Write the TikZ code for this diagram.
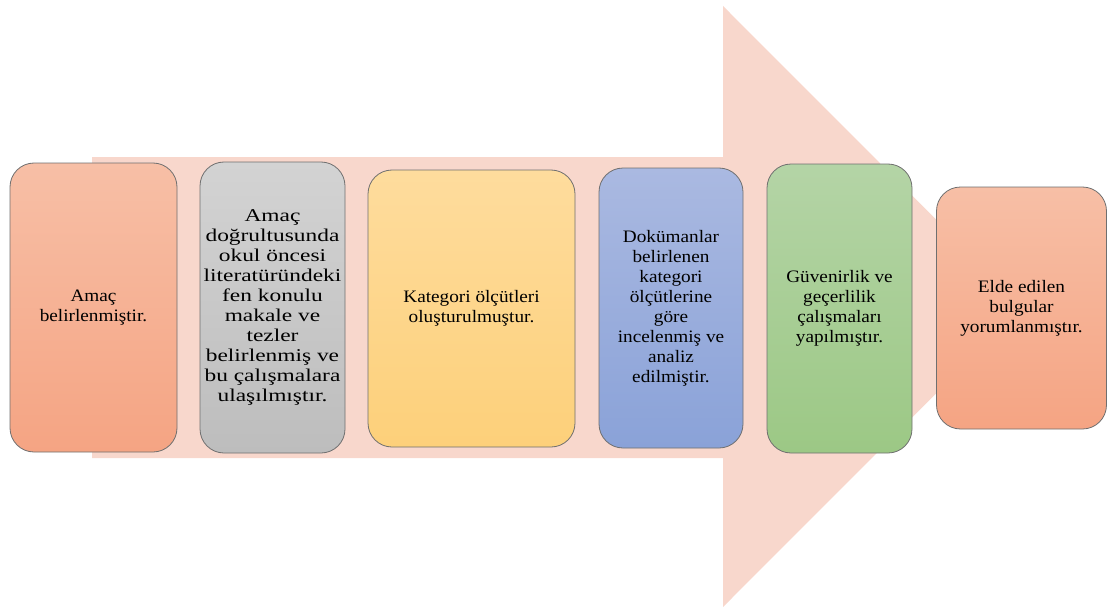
\documentclass[tikz,border=0pt]{standalone}
\usepackage{fontspec}
\newfontfamily\tnr[FakeStretch=1.1]{Liberation Serif}
\newfontfamily\tnrwide[FakeStretch=1.3]{Liberation Serif}
\definecolor{arrowc}{HTML}{F8D7CC}
\definecolor{c1t}{HTML}{F7BFA6}\definecolor{c1b}{HTML}{F5A483}
\definecolor{c2t}{HTML}{D3D3D3}\definecolor{c2b}{HTML}{BDBDBD}
\definecolor{c3t}{HTML}{FEDC9D}\definecolor{c3b}{HTML}{FDD07A}
\definecolor{c4t}{HTML}{AAB9E1}\definecolor{c4b}{HTML}{8AA2D8}
\definecolor{c5t}{HTML}{B4D4A6}\definecolor{c5b}{HTML}{9CC885}
\definecolor{edgec}{HTML}{6F6F6F}
\tikzset{
  stepbox/.style={rounded corners=24pt, draw=edgec, line width=0.8pt,
    align=center, inner sep=2pt,
    font=\tnr\fontsize{17.5}{20}\selectfont},
  widetext/.style={font=\tnrwide\fontsize{18}{19.9}\selectfont},
}
\begin{document}
\begin{tikzpicture}[x=1pt,y=-1pt]
\useasboundingbox (0,0) rectangle (1108,607);
\clip (0,0) rectangle (1108,607);
% big arrow
\fill[arrowc] (92,157) -- (723,157) -- (723,6) -- (1023,306.5) -- (723,607) -- (723,458) -- (92,458) -- cycle;
% boxes
\node[stepbox, top color=c1t, bottom color=c1b, minimum width=167pt, minimum height=289pt] (b1) at (93.5,307.5)
  {Amaç\\belirlenmiştir.};
\node[stepbox, widetext, top color=c2t, bottom color=c2b, minimum width=145pt, minimum height=291pt] (b2) at (272.5,307.5)
  {Amaç\\doğrultusunda\\okul öncesi\\literatüründeki\\fen konulu\\makale ve\\tezler\\belirlenmiş ve\\bu çalışmalara\\ulaşılmıştır.};
\node[stepbox, top color=c3t, bottom color=c3b, minimum width=207pt, minimum height=277pt] (b3) at (471.5,308.5)
  {Kategori ölçütleri\\oluşturulmuştur.};
\node[stepbox, top color=c4t, bottom color=c4b, minimum width=144pt, minimum height=280pt] (b4) at (671,308)
  {Dokümanlar\\belirlenen\\kategori\\ölçütlerine\\göre\\incelenmiş ve\\analiz\\edilmiştir.};
\node[stepbox, top color=c5t, bottom color=c5b, minimum width=145pt, minimum height=289pt] (b5) at (839.5,308.5)
  {Güvenirlik ve\\geçerlilik\\çalışmaları\\yapılmıştır.};
\node[stepbox, top color=c1t, bottom color=c1b, minimum width=170pt, minimum height=242pt] (b6) at (1021.5,308)
  {Elde edilen\\bulgular\\yorumlanmıştır.};
\end{tikzpicture}
\end{document}
